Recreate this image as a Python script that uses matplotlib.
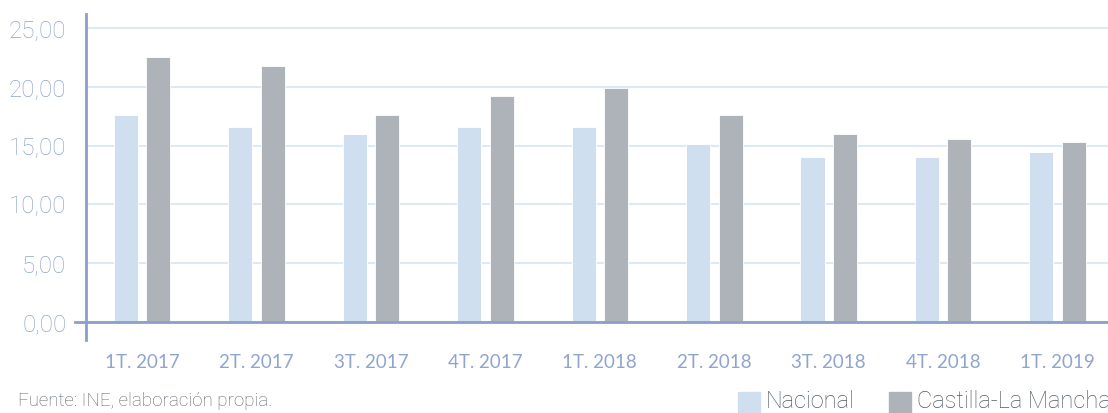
import matplotlib
matplotlib.use("Agg")
import matplotlib.pyplot as plt
import numpy as np
from matplotlib.patches import Rectangle

categories = ["1T. 2017", "2T. 2017", "3T. 2017", "4T. 2017", "1T. 2018",
              "2T. 2018", "3T. 2018", "4T. 2018", "1T. 2019"]
nacional = [17.6, 16.6, 16.0, 16.6, 16.6, 15.1, 14.0, 14.0, 14.5]
clm = [22.5, 21.8, 17.6, 19.2, 19.9, 17.6, 16.0, 15.6, 15.3]
yticks = [0, 5, 10, 15, 20, 25]
ytick_labels = ["0,00", "5,00", "10,00", "15,00", "20,00", "25,00"]
series_names = ["Nacional", "Castilla-La Mancha"]
source = "Fuente: INE, elaboración propia."

c_nac = "#cfdff0"
c_clm = "#aeb3ba"
c_axis = "#8aa0c8"
c_label = "#8fa5cf"
c_grid = "#dde9f5"

fig = plt.figure(figsize=(11.08, 4.13), dpi=100)
ax = fig.add_axes([86/1108, 1-340/413, (1108-86)/1108, (340-14)/413])

x = np.arange(len(categories))
w = 0.21
off = 0.142
ax.bar(x - off, nacional, w, color=c_nac, edgecolor="white", linewidth=0.6, zorder=3)
ax.bar(x + off, clm, w, color=c_clm, edgecolor="white", linewidth=0.6, zorder=3)

ax.set_xlim(-0.49, 8.44)
ax.set_ylim(-1.53, 26.2)
ax.set_yticks(yticks)
ax.set_yticklabels(ytick_labels)
ax.yaxis.grid(True, color=c_grid, linewidth=1.5, zorder=0)
ax.set_axisbelow(True)
ax.set_xticks(x)
ax.set_xticklabels(categories)

for s in ["top", "right", "bottom"]:
    ax.spines[s].set_visible(False)
ax.spines["left"].set_color(c_axis)
ax.spines["left"].set_linewidth(2)

ax.axhline(0, xmin=-0.011, xmax=1, color=c_axis, linewidth=2, clip_on=False, zorder=4)

ax.tick_params(axis="y", length=0, pad=14, labelsize=17.5, labelcolor=c_label)
ax.tick_params(axis="x", length=0, pad=10, labelsize=13.5, labelcolor=c_label)
for lab in ax.get_yticklabels():
    lab.set_fontfamily("Roboto")
    lab.set_fontweight("light")
for lab in ax.get_xticklabels():
    lab.set_fontfamily("Lato")

fig.text(18/1108, 1-401/413, source, fontsize=13.5, color="#5d6770",
         family="Roboto", fontweight="light", va="center", ha="left")

# legend
for px, name, col in [(738, series_names[0], c_nac), (889, series_names[1], c_clm)]:
    fig.patches.append(Rectangle((px/1108, 0), 22/1108, 21/413,
                                 transform=fig.transFigure, color=col, zorder=5))
    fig.text((px+28)/1108, 1-402/413, name, fontsize=17, color="#4f5b66",
             family="Roboto", fontweight="light", va="center", ha="left")

fig.savefig("out.png", dpi=100)
